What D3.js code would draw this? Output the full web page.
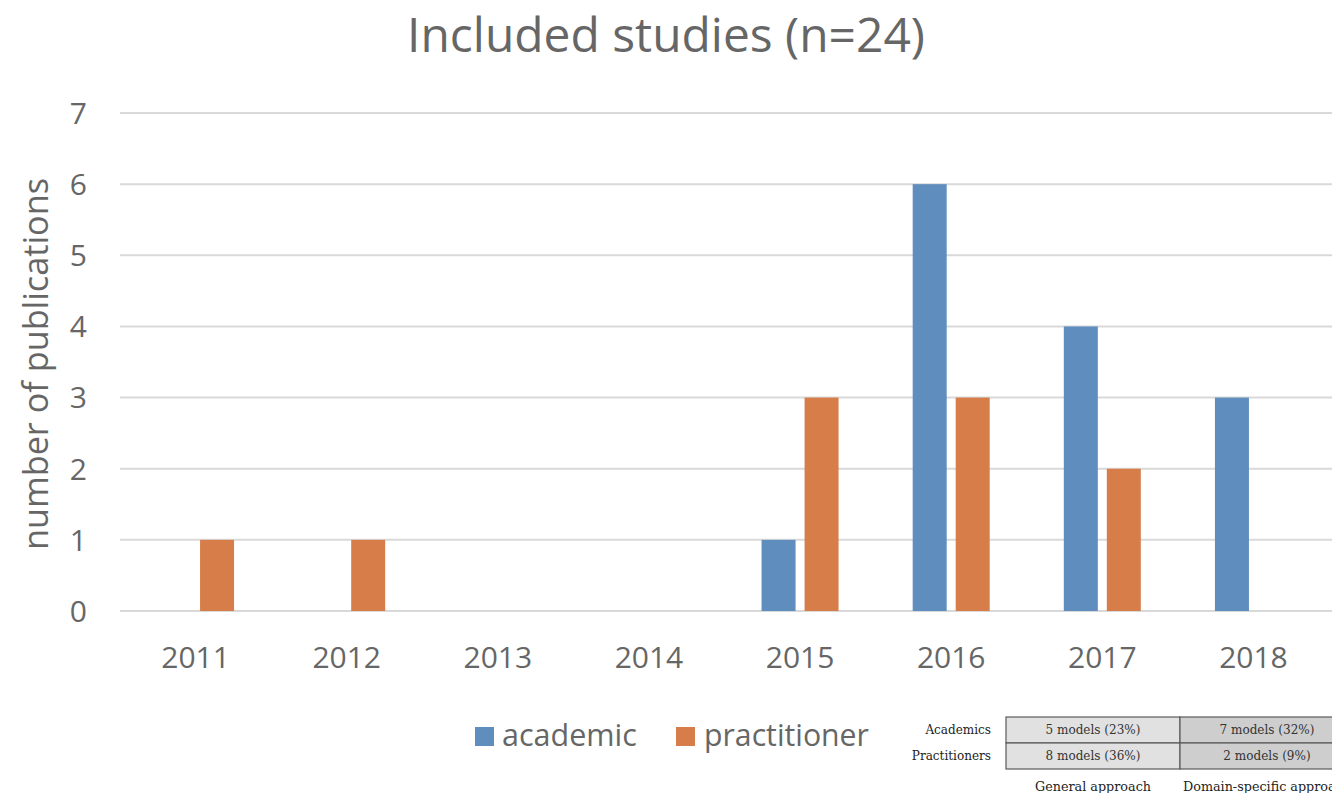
<!DOCTYPE html>
<html>
<head>
<meta charset="utf-8">
<script src="https://cdn.jsdelivr.net/npm/d3@7"></script>
<style>
  html, body { margin: 0; padding: 0; background: #ffffff; overflow: hidden; }
  svg { display: block; }
</style>
</head>
<body>
<svg id="chart" width="1332" height="793"></svg>
<script>
// ---- data ----
const years = ["2011", "2012", "2013", "2014", "2015", "2016", "2017", "2018"];
const academic = [0, 0, 0, 0, 1, 6, 4, 3];
const practitioner = [1, 1, 0, 0, 3, 3, 2, 0];
const seriesNames = ["academic", "practitioner"];
const yTicks = [0, 1, 2, 3, 4, 5, 6, 7];
const titleText = "Included studies (n=24)";
const yTitle = "number of publications";

const tableRowLabels = ["Academics", "Practitioners"];
const tableColLabels = ["General approach", "Domain-specific approach"];
const tableAcademics = ["5 models (23%)", "7 models (32%)"];
const tablePractitioners = ["8 models (36%)", "2 models (9%)"];

// ---- setup ----
const svg = d3.select("#chart");
const colors = { academic: "#5f8dbe", practitioner: "#d77d4a" };
const textColor = "#666666";
const sans = "'Open Sans', 'DejaVu Sans', sans-serif";
const serif = "'DejaVu Serif', 'Liberation Serif', serif";

function fit(sel, target) {
  const node = sel.node();
  const fs = parseFloat(sel.attr("font-size"));
  const w = node.getComputedTextLength();
  if (w > 0) sel.attr("font-size", (fs * target / w).toFixed(2));
  return sel;
}

const x = d3.scaleBand().domain(years).range([120, 1329]).padding(0);
const groupW = 77;
const xs = d3.scaleBand().domain(seriesNames)
  .range([x.bandwidth() / 2 - groupW / 2, x.bandwidth() / 2 + groupW / 2])
  .paddingInner(9 / 43).paddingOuter(0);
const y = d3.scaleLinear().domain([0, 7]).range([611, 113]);

// grid lines
svg.append("g").selectAll("line").data(yTicks).join("line")
  .attr("x1", 120).attr("x2", 1332)
  .attr("y1", d => y(d)).attr("y2", d => y(d))
  .attr("stroke", "#d9d9d9").attr("stroke-width", 2);

// y tick labels
svg.append("g").selectAll("text").data(yTicks).join("text")
  .attr("x", 87).attr("y", d => y(d))
  .attr("dy", "0.36em")
  .attr("text-anchor", "end")
  .attr("font-family", sans).attr("font-size", 30)
  .attr("fill", textColor)
  .text(d => d);

// x tick labels
const xl = svg.append("g").selectAll("text").data(years).join("text")
  .attr("x", d => x(d) + x.bandwidth() / 2)
  .attr("y", 668)
  .attr("text-anchor", "middle")
  .attr("font-family", sans).attr("font-size", 30)
  .attr("fill", textColor)
  .text(d => d);

// bars
const rows = years.map((yr, i) => ({ year: yr, academic: academic[i], practitioner: practitioner[i] }));
const groups = svg.append("g").selectAll("g").data(rows).join("g")
  .attr("transform", d => `translate(${x(d.year)},0)`);
groups.selectAll("rect")
  .data(d => seriesNames.map(k => ({ key: k, value: d[k] })).filter(e => e.value > 0))
  .join("rect")
  .attr("x", d => xs(d.key))
  .attr("width", xs.bandwidth())
  .attr("y", d => y(d.value))
  .attr("height", d => y(0) - y(d.value))
  .attr("fill", d => colors[d.key]);

// title
const t = svg.append("text")
  .attr("x", 666).attr("y", 52)
  .attr("text-anchor", "middle")
  .attr("font-family", sans).attr("font-size", 44)
  .attr("fill", textColor)
  .text(titleText);
fit(t, 518);

// y axis title
const yt = svg.append("text")
  .attr("transform", "translate(48,364) rotate(-90)")
  .attr("text-anchor", "middle")
  .attr("font-family", sans).attr("font-size", 32)
  .attr("fill", textColor)
  .text(yTitle);
fit(yt, 372);

// legend
const legendItems = [
  { key: "academic", sx: 475, tx: 502, w: 135 },
  { key: "practitioner", sx: 676, tx: 704, w: 165 }
];
legendItems.forEach(it => {
  svg.append("rect")
    .attr("x", it.sx).attr("y", 727).attr("width", 19).attr("height", 19)
    .attr("fill", colors[it.key]);
  const lt = svg.append("text")
    .attr("x", it.tx).attr("y", 746)
    .attr("font-family", sans).attr("font-size", 30)
    .attr("fill", textColor)
    .text(it.key);
  fit(lt, it.w);
});

// ---- inset table ----
const tx = d3.scaleBand().domain(tableColLabels).range([1006, 1354]);
const ty = d3.scaleBand().domain(tableRowLabels).range([717, 769]);
const cellFill = { "General approach": "#e1e1e1", "Domain-specific approach": "#cecece" };
const cells = [];
tableRowLabels.forEach((r, i) => {
  const vals = i === 0 ? tableAcademics : tablePractitioners;
  tableColLabels.forEach((c, j) => cells.push({ row: r, col: c, text: vals[j] }));
});
const tg = svg.append("g");
tg.selectAll("rect").data(cells).join("rect")
  .attr("x", d => tx(d.col)).attr("y", d => ty(d.row))
  .attr("width", tx.bandwidth()).attr("height", ty.bandwidth())
  .attr("fill", d => cellFill[d.col])
  .attr("stroke", "#5a5a5a").attr("stroke-width", 1.2);
const ct = tg.selectAll("text.cell").data(cells).join("text")
  .attr("class", "cell")
  .attr("x", d => tx(d.col) + tx.bandwidth() / 2)
  .attr("y", d => ty(d.row) + ty.bandwidth() / 2)
  .attr("dy", "0.35em")
  .attr("text-anchor", "middle")
  .attr("font-family", serif).attr("font-size", 12)
  .attr("fill", "#333")
  .text(d => d.text);
// size table text from first cell
const probe = d3.select(ct.nodes()[0]);
fit(probe, 95);
const cellSize = probe.attr("font-size");
ct.attr("font-size", cellSize);

tg.selectAll("text.rowlab").data(tableRowLabels).join("text")
  .attr("class", "rowlab")
  .attr("x", 991)
  .attr("y", d => ty(d) + ty.bandwidth() / 2)
  .attr("dy", "0.35em")
  .attr("text-anchor", "end")
  .attr("font-family", serif).attr("font-size", cellSize)
  .attr("fill", "#222")
  .text(d => d);

const cl = tg.selectAll("text.collab").data(tableColLabels).join("text")
  .attr("class", "collab")
  .attr("x", d => tx(d) + tx.bandwidth() / 2)
  .attr("y", 791)
  .attr("text-anchor", "middle")
  .attr("font-family", serif).attr("font-size", 12)
  .attr("fill", "#222")
  .text(d => d);
const cprobe = d3.select(cl.nodes()[0]);
fit(cprobe, 116);
cl.attr("font-size", cprobe.attr("font-size"));
</script>
</body>
</html>
